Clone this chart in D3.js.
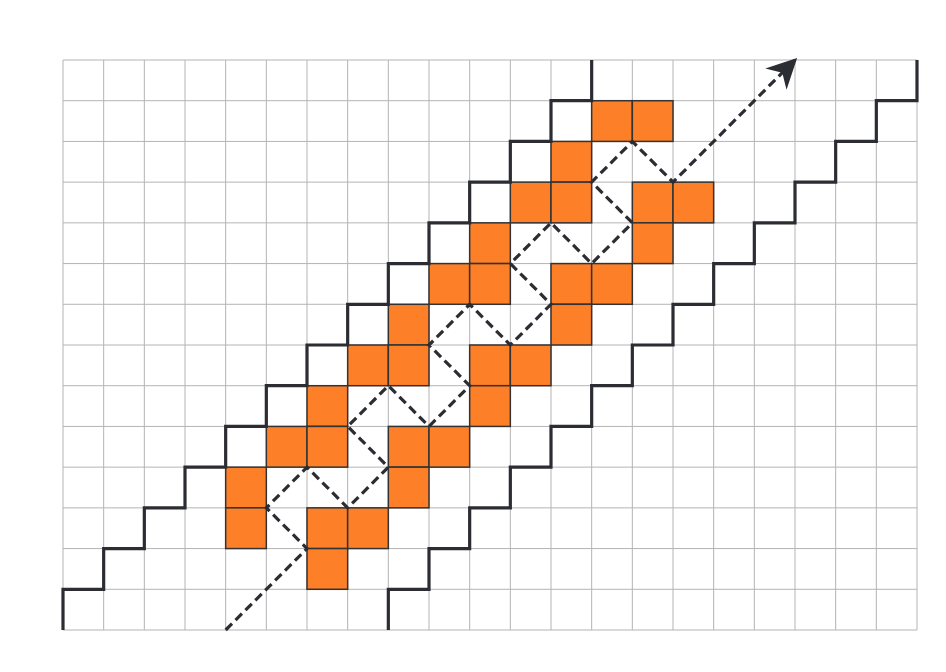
<!DOCTYPE html>
<html>
<head>
<meta charset="utf-8">
<script src="https://cdn.jsdelivr.net/npm/d3@7"></script>
<style>body{margin:0;background:#fff}</style>
</head>
<body>
<svg id="chart" width="946" height="672"></svg>
<script>
// grid size
const nCols = 21, nRows = 14;

// orange cells (column, row from bottom)
const cellCols = [13,14,12,11,12,14,15,10,14,9,10,12,13,8,12,7,8,10,11,6,10,5,6,8,9,4,8,4,6,7,6];
const cellRows = [12,12,11,10,10,10,10,9,9,8,8,8,8,7,7,6,6,6,6,5,5,4,4,4,4,3,3,2,2,2,1];

// staircase starts (column at bottom) and step count
const stairStarts = [0, 8];
const stairSteps = 14;

// dashed zigzag path vertices (grid coords)
const pathX = [4,6,5,6,7,8,7,8,9,10,9,10,11,12,11,12,13,14,13,14,15,18];
const pathY = [0,2,3,4,3,4,5,6,5,6,7,8,7,8,9,10,9,10,11,12,11,14];

const svg = d3.select("#chart");
const x = d3.scaleLinear().domain([0, nCols]).range([63, 917]);
const y = d3.scaleLinear().domain([0, nRows]).range([630, 60]);
const dark = "#2b2d33";

// grid
const g = svg.append("g").attr("stroke", "#b4b4b4").attr("stroke-width", 1);
g.selectAll(".v").data(d3.range(nCols + 1)).join("line")
    .attr("x1", d => x(d)).attr("x2", d => x(d)).attr("y1", y(0)).attr("y2", y(nRows));
g.selectAll(".h").data(d3.range(nRows + 1)).join("line")
    .attr("x1", x(0)).attr("x2", x(nCols)).attr("y1", d => y(d)).attr("y2", d => y(d));

// orange cells
const cells = cellCols.map((c, i) => ({c, r: cellRows[i]}));
svg.append("g").selectAll("rect").data(cells).join("rect")
    .attr("x", d => x(d.c)).attr("y", d => y(d.r + 1))
    .attr("width", x(1) - x(0)).attr("height", y(0) - y(1))
    .attr("fill", "#fd7f28").attr("stroke", "#333").attr("stroke-width", 1.5);

// staircases
const line = d3.line().x(d => x(d[0])).y(d => y(d[1]));
stairStarts.forEach(s => {
    const pts = [];
    for (let k = 0; k < stairSteps; k++) {
        pts.push([s + k, k], [s + k, k + 1]);
        if (k < stairSteps - 1) pts.push([s + k + 1, k + 1]);
    }
    // last horizontal + final riser handled by pattern: add final riser
    svg.append("path").attr("d", line(pts)).attr("fill", "none")
        .attr("stroke", dark).attr("stroke-width", 3.2);
});

// arrow marker
svg.append("defs").append("marker").attr("id", "arr")
    .attr("viewBox", "0 0 10 10").attr("refX", 9).attr("refY", 5)
    .attr("markerWidth", 9).attr("markerHeight", 9).attr("markerUnits", "userSpaceOnUse")
    .attr("orient", "auto")
    .append("path").attr("d", "M0,0 L10,5 L0,10 L3,5 Z").attr("fill", dark);
svg.select("marker").attr("markerWidth", 30).attr("markerHeight", 30);

const zz = pathX.map((v, i) => [v, pathY[i]]);
svg.append("path").attr("d", line(zz)).attr("fill", "none")
    .attr("stroke", dark).attr("stroke-width", 3.2)
    .attr("stroke-dasharray", "9,5").attr("marker-end", "url(#arr)");
</script>
</body>
</html>
